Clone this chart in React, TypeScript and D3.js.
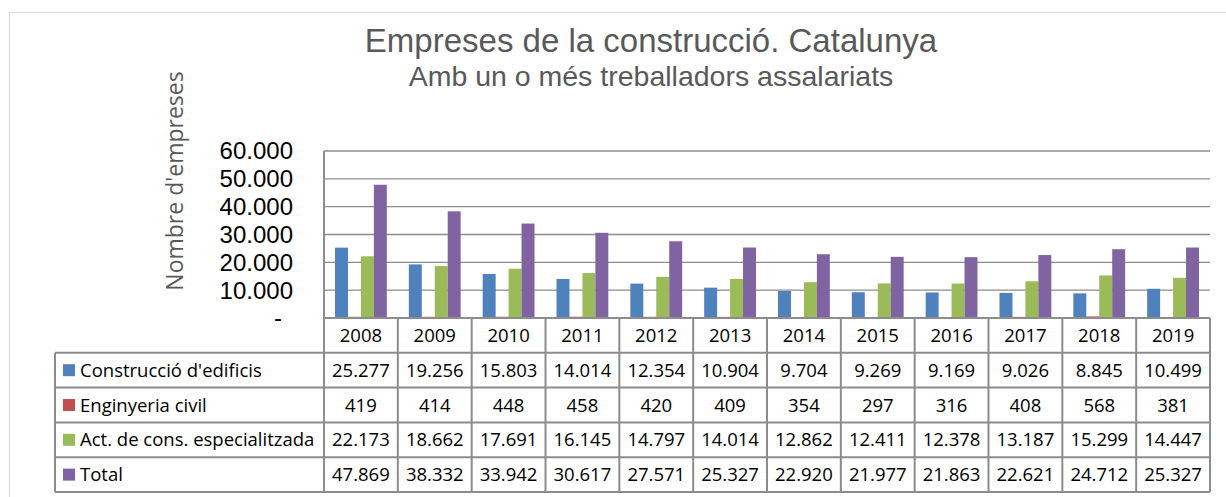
import React, {useEffect, useRef} from 'react';
import * as d3 from 'd3';

// data
const years = ['2008', '2009', '2010', '2011', '2012', '2013', '2014', '2015', '2016', '2017', '2018', '2019'];
const seriesNames = ["Construcció d'edificis", 'Enginyeria civil', 'Act. de cons. especialitzada', 'Total'];
const edificis = [25277, 19256, 15803, 14014, 12354, 10904, 9704, 9269, 9169, 9026, 8845, 10499];
const civil = [419, 414, 448, 458, 420, 409, 354, 297, 316, 408, 568, 381];
const especialitzada = [22173, 18662, 17691, 16145, 14797, 14014, 12862, 12411, 12378, 13187, 15299, 14447];
const total = [47869, 38332, 33942, 30617, 27571, 25327, 22920, 21977, 21863, 22621, 24712, 25327];
const yTicks = [0, 10000, 20000, 30000, 40000, 50000, 60000];
const colors = ['#4f81bd', '#c0504d', '#9bbb59', '#8064a2'];

const App = () => {
  const ref = useRef<SVGSVGElement>(null);

  useEffect(() => {
    const svg = d3.select(ref.current);
    svg.selectAll('*').remove();

    const font = "'Open Sans', sans-serif";
    // tick labels and titles sit tight together, so a font with a shorter line box
    const tightFont = "'Liberation Sans', Arial, sans-serif";
    const locale = d3.formatLocale({decimal: ',', thousands: '.', grouping: [3], currency: ['', '€']});
    const fmt = locale.format(',d');

    const values = [edificis, civil, especialitzada, total];

    // plot area
    const left = 324, right = 1210, top = 151, bottom = 318;
    const rowH = 34.8;
    const labelLeft = 55;

    const x = d3.scaleBand<string>().domain(years).range([left, right]);
    const xi = d3.scaleBand<number>().domain([0, 1, 2, 3]).range([0, x.bandwidth()]).paddingInner(0).paddingOuter(0.85);
    const y = d3.scaleLinear().domain([0, 60000]).range([bottom, top]);

    // outer frame
    svg.append('rect')
      .attr('x', 9.5).attr('y', 12.5)
      .attr('width', 1240).attr('height', 495)
      .attr('fill', 'white').attr('stroke', '#d9d9d9');

    // title + subtitle
    svg.append('text')
      .attr('x', 651).attr('y', 51.5)
      .attr('text-anchor', 'middle')
      .attr('font-family', tightFont).attr('font-size', 33)
      .attr('fill', '#595959')
      .text('Empreses de la construcció. Catalunya');
    svg.append('text')
      .attr('x', 651).attr('y', 85.5)
      .attr('text-anchor', 'middle')
      .attr('font-family', tightFont).attr('font-size', 28.5)
      .attr('fill', '#595959')
      .text('Amb un o més treballadors assalariats');

    // y axis title, rotated inside a group
    svg.append('g')
      .attr('transform', 'translate(183,181) rotate(-90)')
      .append('text')
      .attr('text-anchor', 'middle')
      .attr('font-family', font).attr('font-size', 23)
      .attr('fill', '#595959')
      .text("Nombre d'empreses");

    // gridlines
    svg.selectAll('.grid')
      .data(yTicks.filter(d => d > 0))
      .enter().append('line')
      .attr('x1', left).attr('x2', right)
      .attr('y1', d => y(d)).attr('y2', d => y(d))
      .attr('stroke', '#8c8c8c').attr('stroke-width', 1.3);

    // y tick labels
    svg.selectAll('.tick')
      .data(yTicks)
      .enter().append('text')
      .attr('x', d => d === 0 ? 282 : 293)
      .attr('y', d => y(d))
      .attr('dy', '0.35em')
      .attr('text-anchor', 'end')
      .attr('font-family', tightFont).attr('font-size', 24)
      .attr('fill', '#000')
      .text(d => d === 0 ? '-' : fmt(d));

    // bars
    values.forEach((vals, s) => {
      svg.append('g').selectAll('rect')
        .data(vals)
        .enter().append('rect')
        .attr('x', (d, i) => x(years[i])! + xi(s)!)
        .attr('y', d => y(d))
        .attr('width', xi.bandwidth())
        .attr('height', d => bottom - y(d))
        .attr('fill', colors[s]);
    });

    // data table
    const tableBottom = bottom + rowH * 5;
    const border = '#8c8c8c';
    const g = svg.append('g').attr('stroke', border).attr('stroke-width', 2).attr('fill', 'none');

    // plot left axis line down through table
    g.append('line').attr('x1', left).attr('x2', left).attr('y1', top).attr('y2', tableBottom);
    // horizontal lines
    g.append('line').attr('x1', left).attr('x2', right).attr('y1', bottom).attr('y2', bottom);
    d3.range(1, 6).forEach(r => {
      g.append('line')
        .attr('x1', labelLeft).attr('x2', right)
        .attr('y1', bottom + r * rowH).attr('y2', bottom + r * rowH);
    });
    // verticals
    g.append('line').attr('x1', labelLeft).attr('x2', labelLeft).attr('y1', bottom + rowH).attr('y2', tableBottom);
    years.forEach(yr => {
      const xr = x(yr)! + x.bandwidth();
      g.append('line').attr('x1', xr).attr('x2', xr).attr('y1', bottom).attr('y2', tableBottom);
    });

    // year headers
    svg.selectAll('.yr')
      .data(years)
      .enter().append('text')
      .attr('x', d => x(d)! + x.bandwidth() / 2)
      .attr('y', bottom + rowH / 2)
      .attr('dy', '0.36em')
      .attr('text-anchor', 'middle')
      .attr('font-family', font).attr('font-size', 18.5)
      .attr('fill', '#000')
      .text(d => d);

    // series rows
    seriesNames.forEach((name, s) => {
      const cy = bottom + rowH * (s + 1) + rowH / 2;
      svg.append('rect')
        .attr('x', 63).attr('y', cy - 6)
        .attr('width', 12).attr('height', 12)
        .attr('fill', colors[s]);
      svg.append('text')
        .attr('x', 80).attr('y', cy)
        .attr('dy', '0.36em')
        .attr('font-family', font).attr('font-size', 18.5)
        .attr('fill', '#000')
        .text(name);
      svg.append('g').selectAll('text')
        .data(values[s])
        .enter().append('text')
        .attr('x', (d, i) => x(years[i])! + x.bandwidth() / 2)
        .attr('y', cy)
        .attr('dy', '0.36em')
        .attr('text-anchor', 'middle')
        .attr('font-family', font).attr('font-size', 18.5)
        .attr('fill', '#000')
        .text(d => fmt(d));
    });
  }, []);

  return (
    <svg ref={ref} width={1226} height={497}
      style={{position: 'absolute', left: 0, top: 0, background: 'white'}} />
  );
};

export default App;
